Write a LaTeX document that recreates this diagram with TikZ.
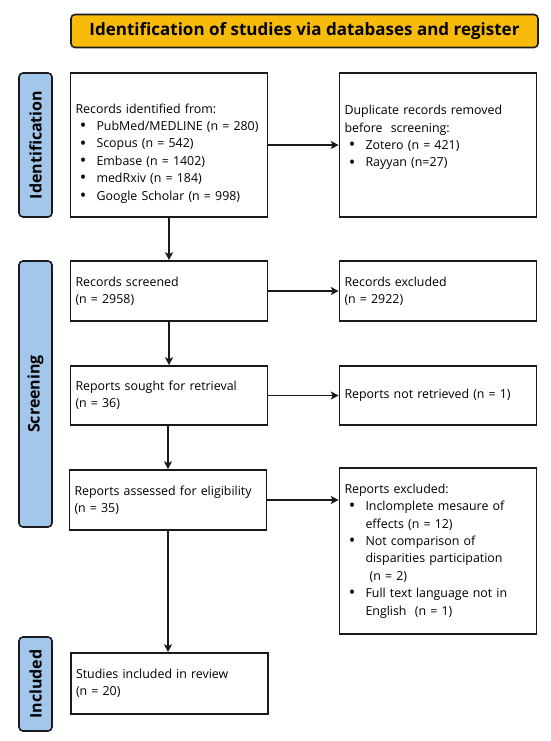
\documentclass[tikz,border=0pt]{standalone}
\usepackage{fontspec}
\setmainfont{Open Sans}
\usepackage{enumitem}
\usepackage{tikz}
\usetikzlibrary{arrows.meta}

\setlist[itemize]{nosep,leftmargin=21pt,labelsep=10pt,
  label=\raisebox{-1.2pt}{\scalebox{1.4}{\textbullet}}}
\definecolor{titlefill}{HTML}{F9BB0A}
\definecolor{phasefill}{HTML}{A3C7EA}
\definecolor{edge}{HTML}{1A1A1A}

\tikzset{
  box/.style={draw=edge, line width=1.6pt, fill=white, minimum width=197pt,
    text width=187pt, align=left, inner xsep=5pt, font=\fontsize{12.4}{17.4}\selectfont},
  phase/.style={draw=edge, line width=1.6pt, fill=phasefill, rounded corners=4pt,
    minimum height=33pt, rotate=90, font=\fontsize{16}{18}\selectfont\bfseries},
  flow/.style={-{Stealth[length=8pt,width=8pt,inset=2pt]}, line width=1.6pt, draw=edge}
}

\begin{document}
\begin{tikzpicture}[x=1pt, y=-1pt]
  \useasboundingbox (0,0) rectangle (550,741);

  % heading
  \node[draw=edge, line width=1.6pt, fill=titlefill, rounded corners=4pt,
        minimum width=467pt, minimum height=33pt,
        font=\fontsize{17}{19}\selectfont\bfseries] (title) at (304.5,31)
        {Identification of studies via databases and register};

  % phase labels
  \node[phase, minimum width=144pt] (idphase) at (35.5,145) {Identification};
  \node[phase, minimum width=266pt] (scphase) at (35.5,394) {Screening};
  \node[phase, minimum width=94pt] (inphase) at (35.5,684) {Included};

  % identification
  \node[box, minimum height=144pt] (records) at (169,145) {\rule{0pt}{26pt}Records identified from:
    \begin{itemize}
      \item PubMed/MEDLINE (n = 280)
      \item Scopus (n = 542)
      \item Embase (n = 1402)
      \item medRxiv (n = 184)
      \item Google Scholar (n = 998)
    \end{itemize}};
  \node[box, minimum height=144pt] (duplicates) at (438,145) {Duplicate records removed\\
    before~ screening:
    \begin{itemize}
      \item Zotero (n = 421)
      \item Rayyan (n=27)\rule[-18pt]{0pt}{1pt}
    \end{itemize}};

  % screening
  \node[box, minimum height=60pt] (screened) at (169,291) {Records screened\\(n = 2958)};
  \node[box, minimum height=60pt] (excluded) at (438,291) {Records excluded\\(n = 2922)};
  \node[box, minimum height=59pt] (sought) at (169,395.5) {Reports sought for retrieval\\(n = 36)};
  \node[box, minimum height=59pt] (notret) at (438,395.5) {Reports not retrieved (n = 1)};
  \node[box, minimum height=60pt] (assessed) at (168,500) {Reports assessed for eligibility\\(n = 35)};
  \node[box, minimum height=166pt] (repexcl) at (438,551) {Reports excluded:
    \begin{itemize}
      \item Inclomplete mesaure of\\effects (n = 12)
      \item Not comparison of\\disparities participation\\~(n = 2)
      \item Full text language not in\\English~ (n = 1)
    \end{itemize}};

  % included
  \node[box, minimum height=61pt] (included) at (169.5,683.5) {Studies included in review\\(n = 20)};

  % connectors
  \draw[flow] (records) -- (duplicates);
  \draw[flow] (records) -- (screened);
  \draw[flow] (screened) -- (excluded);
  \draw[flow] (screened) -- (sought);
  \draw[flow] (sought) -- (notret);
  \draw[flow] (sought.south -| assessed) -- (assessed);
  \draw[flow] (assessed.east) -- (assessed.east -| repexcl.west);
  \draw[flow] (assessed) -- (assessed |- included.north);
\end{tikzpicture}
\end{document}
